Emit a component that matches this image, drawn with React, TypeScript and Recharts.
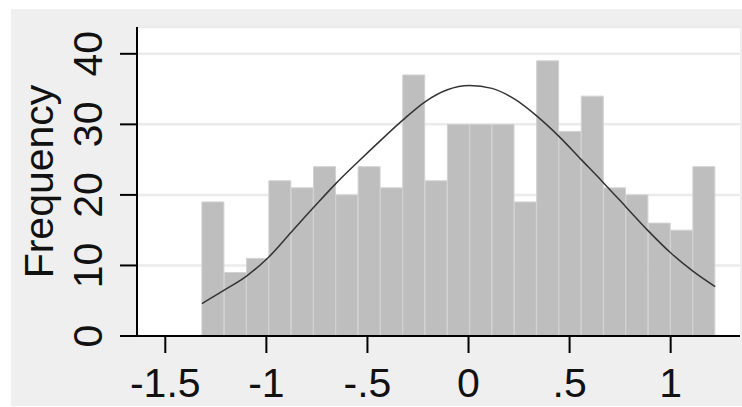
import React from 'react'
import { ComposedChart, Bar, Line, XAxis, YAxis, CartesianGrid } from 'recharts'

// histogram bins (bin mid-points) and their counts
const binMids = [
  -1.2638, -1.1534, -1.043, -0.9326, -0.8222, -0.7118, -0.6014, -0.491, -0.3806, -0.2702, -0.1598, -0.0494,
  0.061, 0.1714, 0.2818, 0.3922, 0.5026, 0.613, 0.7234, 0.8338, 0.9442, 1.0546, 1.165,
]
const binCounts = [19, 9, 11, 22, 21, 24, 20, 24, 21, 37, 22, 30, 30, 30, 19, 39, 29, 34, 21, 20, 16, 15, 24]

const curveX = [
  -1.319, -1.2086, -1.0982, -0.9878, -0.8774, -0.767, -0.6566, -0.5462, -0.4358, -0.3254, -0.215, -0.1046,
  0.0058, 0.1162, 0.2266, 0.337, 0.4474, 0.5578, 0.6682, 0.7786, 0.889, 0.9994, 1.1098, 1.2202,
]
const curveY = [
  4.6, 6.5, 8.5, 11.2, 14.7, 18.2, 21.6, 24.7, 27.7, 30.6, 33.2, 34.9,
  35.5, 35.1, 33.6, 31.2, 28.3, 25.0, 21.7, 18.3, 14.9, 11.8, 9.2, 7.0,
]

const xTicks = [-1.5, -1, -0.5, 0, 0.5, 1]
const xTickLabels = ['-1.5', '-1', '-.5', '0', '.5', '1']
const yTicks = [0, 10, 20, 30, 40]

const bars = binMids.map((x, i) => ({ x, count: binCounts[i] }))
const curve = curveX.map((x, i) => ({ x, density: curveY[i] }))

const FONT = '"Liberation Sans", Arial, Helvetica, sans-serif'
const FONT_SIZE = 41
const INK = '#111'

function XTick({ x, y, payload }: any) {
  const i = xTicks.indexOf(payload.value)
  return (
    <text x={x} y={y + 42} textAnchor="middle" fontFamily={FONT} fontSize={FONT_SIZE} fill={INK}>
      {i >= 0 ? xTickLabels[i] : payload.value}
    </text>
  )
}

function YTick({ x, y, payload }: any) {
  const bx = x - 16
  return (
    <text x={bx} y={y} transform={`rotate(-90, ${bx}, ${y})`} textAnchor="middle" fontFamily={FONT} fontSize={FONT_SIZE} fill={INK}>
      {payload.value}
    </text>
  )
}

function FreqLabel(props: any) {
  const vb = props.viewBox || { x: 0, y: 27, width: 137, height: 309 }
  const bx = vb.x + 53
  const cy = vb.y + vb.height / 2
  return (
    <text x={bx} y={cy} transform={`rotate(-90, ${bx}, ${cy})`} textAnchor="middle" fontFamily={FONT} fontSize={FONT_SIZE} fill={INK}>
      Frequency
    </text>
  )
}

export default function App() {
  return (
    <div style={{ position: 'absolute', left: 0, top: 0, width: 742, height: 407, background: '#fff', overflow: 'hidden' }}>
      <div style={{ position: 'absolute', left: 11, top: 9, right: 0, bottom: 1, background: '#efefef' }} />
      <div style={{ position: 'absolute', left: 0, top: 0 }}>
        <ComposedChart
          width={742}
          height={407}
          data={bars}
          margin={{ top: 27, right: 2, bottom: 0, left: 0 }}
          barCategoryGap={0}
          barGap={0}
        >
          <CartesianGrid vertical={false} fill="#fff" stroke="#ebebeb" strokeWidth={2.5} />
          <XAxis
            dataKey="x"
            type="number"
            domain={[-1.64, 1.343]}
            allowDataOverflow
            ticks={xTicks}
            interval={0}
            height={71}
            tickSize={17}
            tick={<XTick />}
            axisLine={{ stroke: '#000', strokeWidth: 2 }}
            tickLine={{ stroke: '#000', strokeWidth: 2 }}
          />
          <XAxis xAxisId="curve" dataKey="x" type="number" domain={[-1.64, 1.343]} allowDataOverflow hide />
          <YAxis
            type="number"
            domain={[0, 43.8]}
            allowDataOverflow
            ticks={yTicks}
            interval={0}
            width={137}
            tickSize={17}
            tick={<YTick />}
            axisLine={{ stroke: '#000', strokeWidth: 2 }}
            tickLine={{ stroke: '#000', strokeWidth: 2 }}
            label={FreqLabel}
          />
          <Bar dataKey="count" fill="#bebebe" stroke="#d2d2d2" strokeWidth={1} isAnimationActive={false} />
          <Line
            xAxisId="curve"
            data={curve}
            dataKey="density"
            type="monotone"
            stroke="#333"
            strokeWidth={1.5}
            dot={false}
            activeDot={false}
            isAnimationActive={false}
          />
        </ComposedChart>
      </div>
    </div>
  )
}
